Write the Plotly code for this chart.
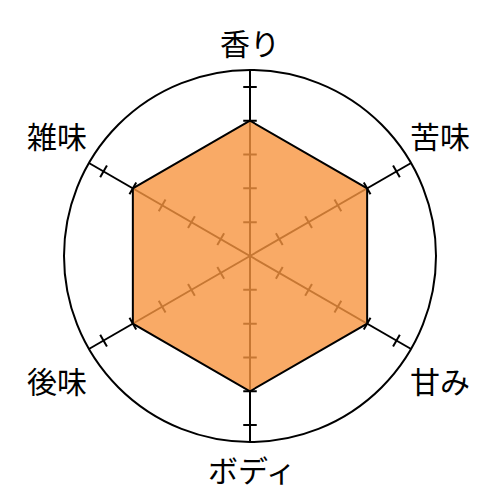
import numpy as np
import plotly.graph_objects as go

categories = ["香り", "苦味", "甘み", "ボディ", "後味", "雑味"]
scores = [4, 4, 4, 4, 4, 4]
tick_values = [1, 2, 3, 4, 5]
r_max = 5.5

angles = [i * 60 for i in range(len(categories))]

# where the axis names sit (paper coords, plot area = the circle's square)
label_pos = [(0.5, 1.075), (1.012, 0.826), (1.012, 0.168),
             (0.505, -0.073), (-0.019, 0.168), (-0.019, 0.826)]

# little tick marks across every spoke
half = 0.2
tx, tt = [], []
for a in angles:
    for v in tick_values:
        rr = np.hypot(v, half)
        da = np.degrees(np.arctan(half / v))
        tx += [rr, rr, None]
        tt += [a - da, a + da, None]

fig = go.Figure()
fig.add_trace(go.Scatterpolar(r=tx, theta=tt, mode="lines",
                              line=dict(color="black", width=2),
                              hoverinfo="skip", showlegend=False))
fig.add_trace(go.Scatterpolar(r=scores + scores[:1], theta=angles + angles[:1],
                              mode="lines", fill="toself",
                              fillcolor="rgba(247,149,64,0.8)",
                              line=dict(color="black", width=2),
                              showlegend=False))

for name, (px_, py_) in zip(categories, label_pos):
    fig.add_annotation(text=name, x=px_, y=py_, xref="paper", yref="paper",
                       xanchor="center", yanchor="middle", showarrow=False)

fig.update_layout(
    width=500, height=500,
    margin=dict(l=56, r=72, t=62, b=66),
    paper_bgcolor="white",
    font=dict(family="Noto Sans CJK JP", size=30, color="black"),
    polar=dict(
        bgcolor="white",
        radialaxis=dict(range=[0, r_max], showticklabels=False, showgrid=False,
                        showline=False, ticks=""),
        angularaxis=dict(type="linear", thetaunit="degrees", rotation=90,
                         direction="clockwise", tickvals=angles,
                         showticklabels=False, ticks="",
                         showline=True, linecolor="black", linewidth=2,
                         showgrid=True, gridcolor="black", gridwidth=2),
    ),
)
fig.write_html("out.html")
